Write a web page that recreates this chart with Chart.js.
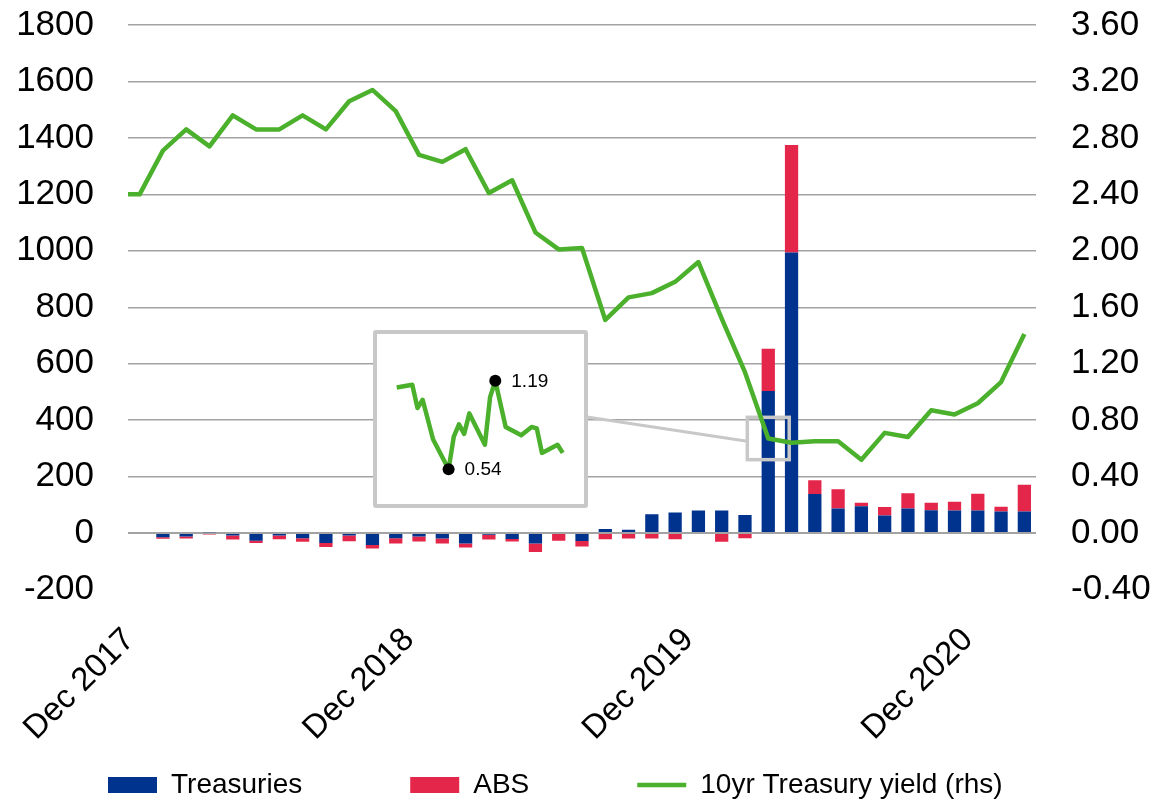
<!DOCTYPE html>
<html>
<head>
<meta charset="utf-8">
<script src="https://cdn.jsdelivr.net/npm/chart.js@4.4.1/dist/chart.umd.min.js"></script>
<style>
  body { margin: 0; background: #fff; }
  #wrap { position: relative; width: 1156px; height: 802px; }
  #inset {
    position: absolute; left: 373px; top: 330px; width: 215px; height: 178px;
    border: 4px solid #c8c8c8; border-radius: 3px; background: #fff; box-sizing: border-box;
  }
  #inset-box { position: absolute; left: 0; top: 0; width: 207px; height: 170px; }
</style>
</head>
<body>
<div id="wrap">
  <canvas id="main-chart" width="1156" height="802"></canvas>
  <div id="inset"><div id="inset-box"><canvas id="inset-chart"></canvas></div></div>
</div>
<script>
// monthly categories
const months = ['Dec 2017', 'Jan 2018', 'Feb 2018', 'Mar 2018', 'Apr 2018', 'May 2018', 'Jun 2018', 'Jul 2018',
    'Aug 2018', 'Sep 2018', 'Oct 2018', 'Nov 2018', 'Dec 2018', 'Jan 2019', 'Feb 2019', 'Mar 2019', 'Apr 2019',
    'May 2019', 'Jun 2019', 'Jul 2019', 'Aug 2019', 'Sep 2019', 'Oct 2019', 'Nov 2019', 'Dec 2019', 'Jan 2020',
    'Feb 2020', 'Mar 2020', 'Apr 2020', 'May 2020', 'Jun 2020', 'Jul 2020', 'Aug 2020', 'Sep 2020', 'Oct 2020',
    'Nov 2020', 'Dec 2020', 'Jan 2021', 'Feb 2021'];
const treasuries = [0, -15, -12, 3, -9, -27, -9, -18, -35, -9, -42, -18, -12, -19, -37, -6, -21, -37, 0, -28,
    14, 12, 67, 73, 80, 80, 64, 503, 994, 138, 87, 95, 62, 87, 81, 80, 80, 76, 76];
const abs = [-3, -5, -7, -5, -14, -8, -13, -13, -14, -20, -13, -19, -18, -18, -14, -17, -9, -30, -27, -20,
    -22, -19, -19, -22, -3, -31, -18, 150, 381, 49, 68, 12, 30, 54, 26, 31, 59, 17, 95];
// 10yr yield (rhs), month end; yieldLead is where the line meets the left edge
const yieldLead = 2.40;
const yields = [2.40, 2.71, 2.86, 2.74, 2.96, 2.86, 2.86, 2.96, 2.86, 3.06, 3.14, 2.99, 2.68, 2.63, 2.72, 2.41,
    2.50, 2.13, 2.01, 2.02, 1.51, 1.67, 1.70, 1.78, 1.92, 1.52, 1.14, 0.67, 0.64, 0.65, 0.65, 0.52, 0.71, 0.68,
    0.87, 0.84, 0.92, 1.07, 1.41];
// inset: daily yield, day of March 2020
const insetDays = [-1, 2, 3, 4, 6, 9, 10, 11, 12, 13, 16, 17, 18, 20, 23, 25, 26, 27, 30, 31];
const insetYields = [1.14, 1.16, 0.99, 1.05, 0.76, 0.54, 0.78, 0.87, 0.80, 0.95, 0.72, 1.07, 1.19, 0.85, 0.79,
    0.85, 0.84, 0.66, 0.72, 0.66];
const leftTicks = [-200, 1800, 200];
const rightTicks = [-0.4, 3.6, 0.4];

const blue = '#00338d';
const red = '#e4264a';
const green = '#4bb02c';
const frameGrey = '#c8c8c8';
const fontFam = "'Liberation Sans', Arial, sans-serif";

// small frame round March 2020 on the line, plus the connector to the inset
const zoomFrame = { x0: 26.1, x1: 27.9, y0: 0.52, y1: 0.82, joinY: 0.65 };

const framePlugin = {
    id: 'framePlugin',
    afterLayout(chart) {
        // let the rotated month labels run down past the axis box
        chart.scales.x.bottom = chart.height;
    },
    beforeDatasetDraw(chart, args) {
        if (args.index !== 2) return;
        const xs = chart.scales.x2;
        const ys = chart.scales.y1;
        const c = chart.ctx;
        const l = xs.getPixelForValue(zoomFrame.x0);
        const r = xs.getPixelForValue(zoomFrame.x1);
        const t = ys.getPixelForValue(zoomFrame.y1);
        const b = ys.getPixelForValue(zoomFrame.y0);
        const inset = document.getElementById('inset');
        c.save();
        c.strokeStyle = frameGrey;
        c.lineWidth = 3;
        c.beginPath();
        c.moveTo(inset.offsetLeft + inset.offsetWidth - 1, inset.offsetTop + 87);
        c.lineTo(l, ys.getPixelForValue(zoomFrame.joinY));
        c.stroke();
        c.lineWidth = 3.5;
        c.strokeRect(l, t, r - l, b - t);
        c.restore();
    }
};

function noPadX(s, h) {
    s.height = h;
    s.paddingLeft = 0;
    s.paddingRight = 0;
}
function noPadY(s, w) {
    s.width = w;
    s.paddingTop = 0;
    s.paddingBottom = 0;
}

let main_chart = new Chart(document.getElementById('main-chart'), {
    type: 'bar',
    data: {
        labels: months,
        datasets: [
            {
                label: 'Treasuries',
                data: treasuries,
                backgroundColor: blue,
                barPercentage: 0.57,
                categoryPercentage: 1,
                grouped: false,
                stack: 'flows',
                pointStyle: 'rect',
                order: 1
            },
            {
                label: 'ABS',
                data: abs,
                backgroundColor: red,
                barPercentage: 0.57,
                categoryPercentage: 1,
                grouped: false,
                stack: 'flows',
                pointStyle: 'rect',
                order: 1
            },
            {
                type: 'line',
                label: '10yr Treasury yield (rhs)',
                data: [{ x: -0.5, y: yieldLead }].concat(yields.map((v, i) => ({ x: i, y: v }))),
                xAxisID: 'x2',
                yAxisID: 'y1',
                borderColor: green,
                backgroundColor: green,
                borderWidth: 4.5,
                pointRadius: 0,
                pointStyle: 'line',
                borderJoinStyle: 'round',
                fill: false,
                order: 0
            }
        ]
    },
    options: {
        responsive: false,
        animation: false,
        layout: { padding: { top: 25 } },
        plugins: {
            tooltip: { enabled: false },
            legend: {
                position: 'bottom',
                align: 'start',
                maxHeight: 139,
                labels: {
                    usePointStyle: true,
                    pointStyleWidth: 49,
                    boxHeight: 16,
                    padding: 108,
                    color: '#000',
                    font: { size: 28, family: fontFam },
                    sort: (a, b) => a.datasetIndex - b.datasetIndex
                }
            }
        },
        scales: {
            x: {
                stacked: true,
                offset: true,
                grid: { display: false, offset: true },
                border: { display: false },
                ticks: {
                    autoSkip: false,
                    minRotation: 45,
                    maxRotation: 45,
                    padding: 23,
                    labelOffset: -10,
                    color: '#000',
                    font: { size: 33, family: fontFam },
                    callback: function (value, index) {
                        return index % 12 === 0 ? months[index] : '';
                    }
                },
                afterFit: (s) => noPadX(s, 73.5)
            },
            x2: { type: 'linear', display: false, offset: false, min: -0.5, max: 38.5 },
            y: {
                stacked: true,
                min: leftTicks[0],
                max: leftTicks[1],
                border: { display: false },
                grid: {
                    drawTicks: false,
                    color: (ctx) => ctx.tick && ctx.tick.value === leftTicks[0] ? 'rgba(0,0,0,0)' : '#a3a3a3',
                    lineWidth: (ctx) => ctx.tick && ctx.tick.value === 0 ? 2 : 1.4
                },
                ticks: {
                    stepSize: leftTicks[2],
                    padding: 34,
                    color: '#000',
                    font: { size: 35, family: fontFam },
                    callback: (v) => String(v)
                },
                afterFit: (s) => noPadY(s, 128)
            },
            y1: {
                position: 'right',
                min: rightTicks[0],
                max: rightTicks[1],
                border: { display: false },
                grid: { display: false, drawTicks: false },
                ticks: {
                    stepSize: rightTicks[2],
                    padding: 35,
                    color: '#000',
                    font: { size: 35, family: fontFam },
                    callback: (v) => v.toFixed(2)
                },
                afterFit: (s) => noPadY(s, 120)
            }
        }
    },
    plugins: [framePlugin]
});

// labels for the low and high of the inset line
const extremesPlugin = {
    id: 'extremesPlugin',
    afterDatasetsDraw(chart) {
        const meta = chart.getDatasetMeta(0);
        const vals = chart.data.datasets[0].data;
        const lo = vals.indexOf(Math.min(...vals));
        const hi = vals.indexOf(Math.max(...vals));
        const c = chart.ctx;
        c.save();
        c.fillStyle = '#000';
        c.font = '19px ' + fontFam;
        c.textBaseline = 'middle';
        [lo, hi].forEach(function (i) {
            const p = meta.data[i];
            c.fillText(vals[i].toFixed(2), p.x + 16, p.y + 1);
        });
        c.restore();
    }
};

let inset_chart = new Chart(document.getElementById('inset-chart'), {
    type: 'line',
    data: {
        labels: insetDays,
        datasets: [{
            data: insetYields,
            borderColor: green,
            borderWidth: 4.5,
            borderJoinStyle: 'round',
            pointRadius: insetYields.map((v) => (v === Math.min(...insetYields) || v === Math.max(...insetYields)) ? 6 : 0),
            pointBackgroundColor: '#000',
            pointBorderWidth: 0,
            clip: false
        }]
    },
    options: {
        responsive: true,
        maintainAspectRatio: false,
        animation: false,
        layout: { padding: 0 },
        plugins: { legend: { display: false }, tooltip: { enabled: false } },
        scales: {
            x: { type: 'linear', display: false, min: -4.8, max: 35.1 },
            y: { display: false, min: 0.285, max: 1.533 }
        }
    },
    plugins: [extremesPlugin]
});
</script>
</body>
</html>
